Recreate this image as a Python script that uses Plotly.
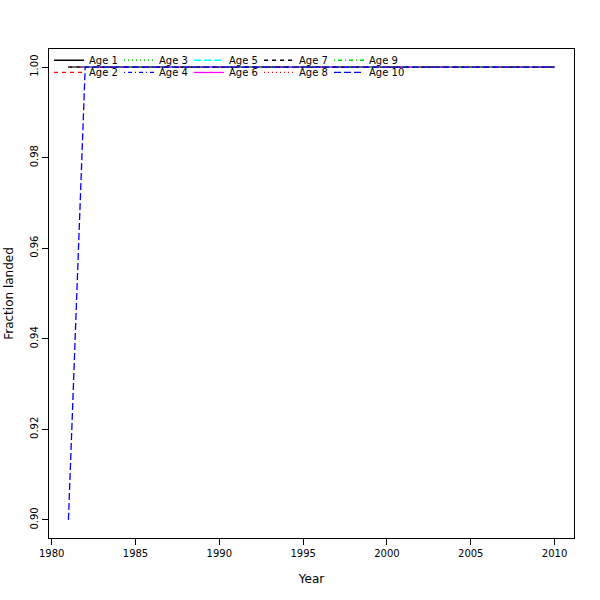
import plotly.graph_objects as go

years = list(range(1981, 2011))
age_names = ["Age 1", "Age 2", "Age 3", "Age 4", "Age 5",
             "Age 6", "Age 7", "Age 8", "Age 9", "Age 10"]
# fraction landed per age (1981..2010)
age1 = [1.0] * 30
age2 = [1.0] * 30
age3 = [1.0] * 30
age4 = [1.0] * 30
age5 = [1.0] * 30
age6 = [1.0] * 30
age7 = [1.0] * 30
age8 = [1.0] * 30
age9 = [1.0] * 30
age10 = [0.9] + [1.0] * 29
series = [age1, age2, age3, age4, age5, age6, age7, age8, age9, age10]

colors = ["#000000", "#FF0000", "#00CD00", "#0000FF", "#00FFFF",
          "#FF00FF", "#000000", "#FF0000", "#00CD00", "#0000FF"]
dashes = ["solid", "4px,4px", "1px,3px", "1px,3px,4px,3px", "7px,3px",
          "solid", "4px,4px", "1px,3px", "1px,3px,4px,3px", "7px,3px"]
legend_ids = ["legend", "legend2", "legend", "legend2", "legend",
              "legend2", "legend", "legend2", "legend", "legend3"]

fig = go.Figure()
for i, (name, vals) in enumerate(zip(age_names, series)):
    fig.add_trace(go.Scatter(
        x=years, y=vals, mode="lines", name=name,
        line=dict(color=colors[i], dash=dashes[i], width=1.3),
        legend=legend_ids[i],
    ))

font = dict(family="DejaVu Sans", size=10, color="black")
legend_common = dict(
    orientation="h", entrywidth=25, entrywidthmode="pixels",
    bgcolor="rgba(0,0,0,0)", font=font, xanchor="left", yanchor="middle",
    tracegroupgap=0,
)

fig.update_layout(
    width=600, height=600,
    margin=dict(l=49, r=26, t=49, b=62, autoexpand=False),
    paper_bgcolor="white", plot_bgcolor="white",
    font=font,
    showlegend=True,
    legend=dict(x=0.0, y=0.9770, **legend_common),
    legend2=dict(x=0.0, y=0.9520, **legend_common),
    legend3=dict(x=280 / 525, y=0.9520, orientation="h", bgcolor="rgba(0,0,0,0)",
                 font=font, xanchor="left", yanchor="middle"),
    xaxis=dict(
        range=[1979.84, 2011.16], tickvals=[1980, 1985, 1990, 1995, 2000, 2005, 2010],
        ticks="outside", ticklen=6, tickcolor="black", showgrid=False, zeroline=False,
        showline=True, linecolor="black", linewidth=1, mirror=True, automargin=False,
        title=dict(text="Year", standoff=16), tickfont=font,
    ),
    yaxis=dict(
        range=[0.896, 1.004], tickvals=[0.90, 0.92, 0.94, 0.96, 0.98, 1.00],
        tickformat=".2f", tickangle=-90,
        ticks="outside", ticklen=6, tickcolor="black", showgrid=False, zeroline=False,
        showline=True, linecolor="black", linewidth=1, mirror=True, automargin=False,
        title=dict(text="Fraction landed", standoff=12), tickfont=font,
    ),
)

fig.write_html("out.html", config={"displayModeBar": False},
               post_script="document.body.style.margin='0';")
